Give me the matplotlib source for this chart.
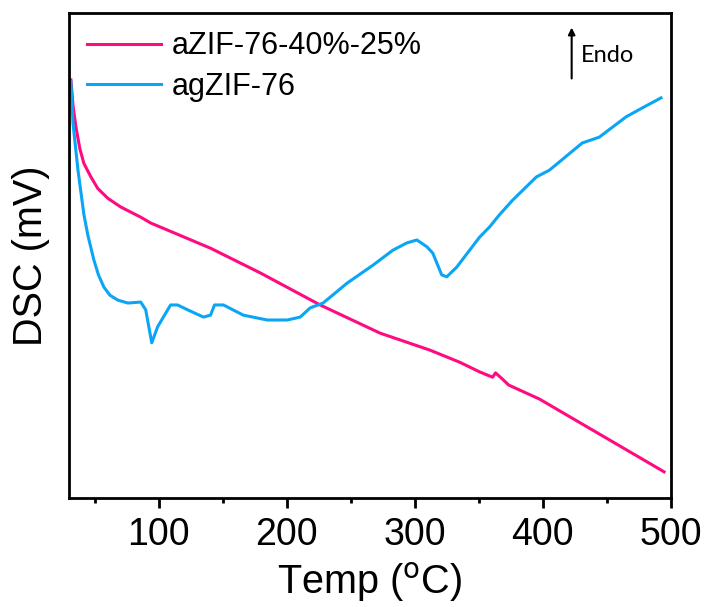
import numpy as np
from matplotlib import pyplot as plt

#temperatures (C) and DSC signal (arb. mV)
temp_a = [31.5, 33.1, 35.4, 38.5, 41.6, 47.1, 52.5, 60.3, 70.4, 86.0, 93.8,
          140.5, 179.4, 226.1, 272.8, 311.7, 335.0, 350.6, 360.7, 363.0,
          368.5, 373.2, 397.3, 494.6]
dsc_a = [86.2, 81.0, 76.5, 72.0, 69.0, 66.2, 63.8, 61.8, 60.0, 57.9, 56.7,
         51.5, 46.4, 39.8, 34.0, 30.5, 28.0, 26.0, 24.9, 25.8,
         24.5, 23.3, 20.4, 5.4]

temp_b = [31.5, 33.1, 37.0, 41.6, 44.7, 49.4, 53.0, 57.2, 62.0, 68.1, 75.9,
          86.0, 89.9, 94.6, 99.2, 109.3, 114.8, 122.6, 135.0, 140.5, 143.6,
          150.6, 166.1, 184.8, 200.4, 210.5, 218.3, 228.4, 247.1, 267.3,
          282.9, 293.8, 301.6, 309.4, 314.0, 321.0, 324.9, 332.7, 342.8,
          350.6, 358.4, 366.1, 376.3, 394.9, 405.1, 430.7, 444.0, 465.0,
          477.4, 492.2]
dsc_b = [85.8, 77.3, 67.6, 58.5, 54.2, 49.1, 46.0, 43.5, 41.8, 40.8, 40.2,
         40.4, 38.8, 32.0, 35.3, 39.8, 39.8, 38.8, 37.3, 37.7, 39.8,
         39.8, 37.7, 36.7, 36.7, 37.3, 39.2, 40.2, 44.3, 48.0,
         51.1, 52.6, 53.2, 51.8, 50.5, 46.0, 45.6, 47.6, 51.1,
         53.8, 55.9, 58.4, 61.4, 66.2, 67.6, 73.2, 74.4, 78.6,
         80.4, 82.5]

labels = ['aZIF-76-40%-25%', 'agZIF-76']
colors = ['#ff0a80', '#0aa6f5']

plt.rcParams['font.family'] = ['Liberation Sans', 'DejaVu Sans']

fig = plt.figure(figsize=(7.1, 6.07), dpi=100)
ax = fig.add_axes([69/710, 1-498/607, (671-69)/710, (498-13)/607])

ax.plot(temp_a, dsc_a, color=colors[0], lw=2.2, label=labels[0])
ax.plot(temp_b, dsc_b, color=colors[1], lw=2.2, label=labels[1])

ax.set_xlim(30, 500)
ax.set_ylim(0, 100)
ax.set_xticks([100, 200, 300, 400, 500])
ax.set_xticks(np.arange(50, 500, 100), minor=True)
ax.set_yticks([])
ax.tick_params(axis='x', which='major', length=7, width=2, labelsize=27, pad=7)
ax.tick_params(axis='x', which='minor', length=3.5, width=2)
for s in ax.spines.values():
  s.set_linewidth(2)

ax.set_xlabel(r'Temp ($^{\mathrm{o}}$C)', fontsize=28.5, labelpad=5)
ax.set_ylabel('DSC (mV)', fontsize=28.5, labelpad=14)

ax.legend(loc='upper left', bbox_to_anchor=(0.0, 1.0), frameon=False,
          fontsize=22, handlelength=2.4, handletextpad=0.35,
          labelspacing=0.35, borderaxespad=0.2)

#endotherm direction arrow
ax.annotate('', xy=(0.835, 0.97), xytext=(0.835, 0.865), xycoords='axes fraction',
            arrowprops=dict(arrowstyle='-|>', color='black', lw=1.5,
                            mutation_scale=10, shrinkA=0, shrinkB=0))
ax.text(0.85, 0.912, 'Endo', transform=ax.transAxes, fontsize=17,
        family=['Lato', 'DejaVu Sans'], va='center', ha='left')

fig.savefig('out.png', dpi=100)
